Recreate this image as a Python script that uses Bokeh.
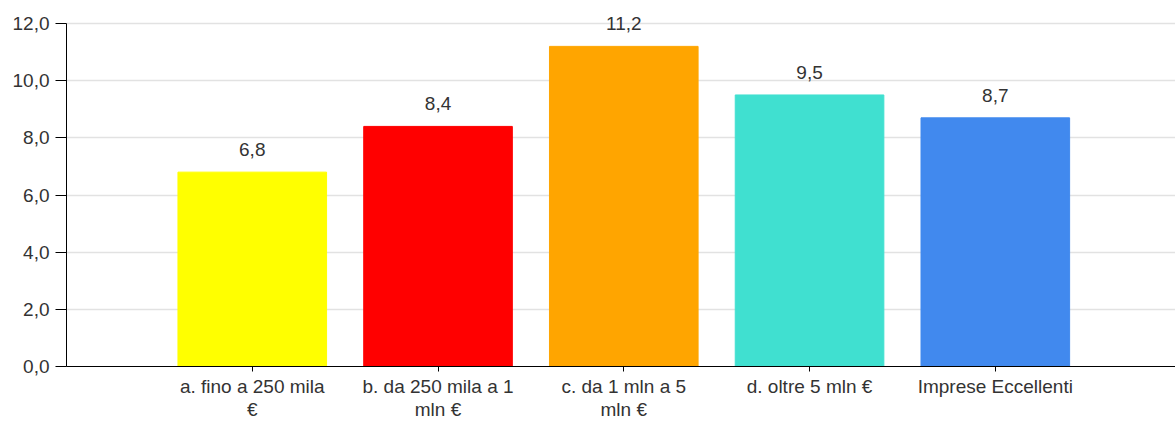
from bokeh.plotting import figure
from bokeh.models import ColumnDataSource, FixedTicker, LabelSet, Range1d
from bokeh.core.properties import value
from bokeh.embed import file_html
from bokeh.resources import INLINE

categories = ["a. fino a 250 mila\n€", "b. da 250 mila a 1\nmln €", "c. da 1 mln a 5\nmln €",
              "d. oltre 5 mln €", "Imprese Eccellenti"]
values = [6.8, 8.4, 11.2, 9.5, 8.7]
colors = ["#FFFF00", "#FF0000", "#FFA500", "#40E0D0", "#4189EE"]
y_ticks = [0, 2, 4, 6, 8, 10, 12]
y_tick_labels = ["0,0", "2,0", "4,0", "6,0", "8,0", "10,0", "12,0"]

xs = list(range(1, len(categories) + 1))
src = ColumnDataSource(dict(x=xs, top=values, color=colors,
                            label=[f"{v:.1f}".replace(".", ",") for v in values]))

p = figure(width=1175, height=422, output_backend="svg", toolbar_location=None,
           x_range=Range1d(0, 5.97), y_range=Range1d(0, 12.805),
           min_border_left=66, min_border_right=0, min_border_top=0, min_border_bottom=56)
p.outline_line_color = None
p.background_fill_color = "white"
p.border_fill_color = "white"

p.vbar(x="x", top="top", width=0.8, color="color", source=src)

font = "Liberation Sans"
labels = LabelSet(x="x", y="top", text="label", source=src, text_align="center",
                  text_baseline="bottom", y_offset=16, text_font_size="19px",
                  text_color="#333333", text_font=value(font))
p.add_layout(labels)

p.yaxis.ticker = FixedTicker(ticks=y_ticks)
p.yaxis.bounds = (0, 12)
p.yaxis.major_label_overrides = {t: l for t, l in zip(y_ticks, y_tick_labels)}
p.yaxis.major_tick_out = 11
p.yaxis.major_tick_in = 0
p.yaxis.minor_tick_out = 0
p.yaxis.minor_tick_in = 0
p.yaxis.major_label_text_font = font
p.yaxis.major_label_text_font_size = "19px"
p.yaxis.major_label_text_color = "#333333"
p.yaxis.major_label_standoff = 6
p.yaxis.axis_line_color = "black"
p.yaxis.major_tick_line_color = "black"

p.xaxis.ticker = FixedTicker(ticks=xs)
p.xaxis.major_label_overrides = {x: c for x, c in zip(xs, categories)}
p.xaxis.major_tick_out = 5
p.xaxis.major_tick_in = 0
p.xaxis.minor_tick_out = 0
p.xaxis.minor_tick_in = 0
p.xaxis.major_label_text_font = font
p.xaxis.major_label_text_font_size = "19px"
p.xaxis.major_label_text_line_height = 1.1
p.xaxis.major_label_text_color = "#333333"
p.xaxis.major_label_standoff = 4
p.xaxis.axis_line_color = "black"
p.xaxis.major_tick_line_color = "black"

p.xgrid.grid_line_color = None
p.ygrid.ticker = FixedTicker(ticks=y_ticks)
p.ygrid.grid_line_color = "#e2e2e2"
p.ygrid.grid_line_width = 1.5

open("out.html", "w").write(file_html(p, INLINE))
